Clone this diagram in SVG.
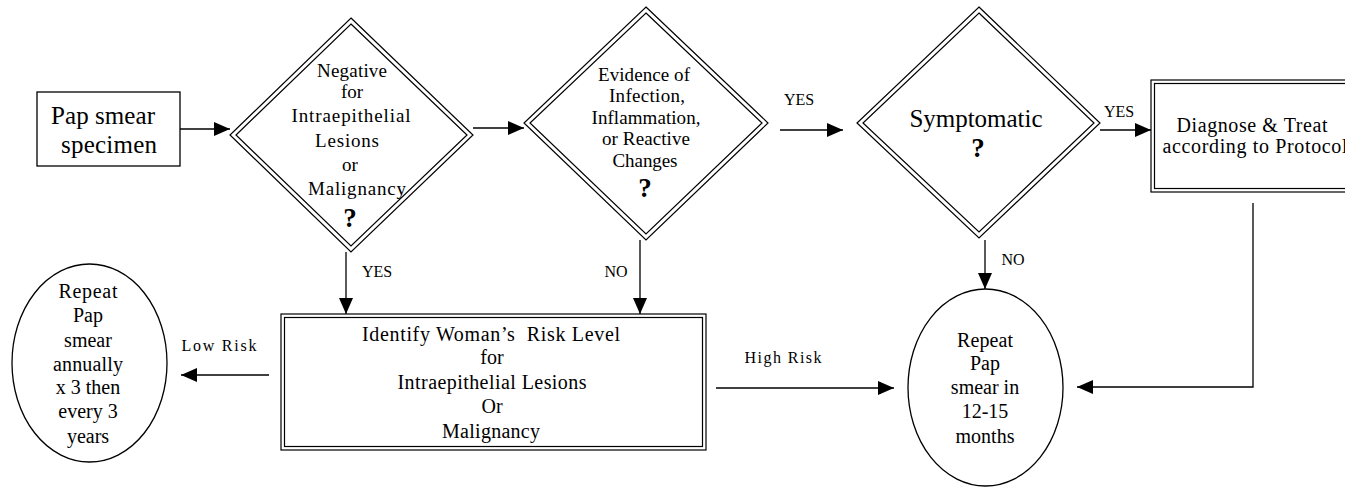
<svg xmlns="http://www.w3.org/2000/svg" width="1345" height="487" viewBox="0 0 1345 487" font-family="'Liberation Serif', 'Times New Roman', Times, serif">
<style>
text{font-family:'Liberation Serif','Times New Roman',Times,serif;fill:#000;text-anchor:middle}
.n{fill:#fff;stroke:#000;stroke-width:1.3}
.d{fill:none;stroke:#000;stroke-width:1.2}
.c{fill:none;stroke:#000;stroke-width:1.3}
.t18{font-size:19px}
.t19{font-size:20px}
.t20{font-size:20px}
.t24{font-size:25px}
.q{font-size:27px;font-weight:bold}
.l{font-size:16px}
</style>
<defs>
<marker id="ah" markerWidth="16" markerHeight="14" refX="16" refY="7" orient="auto" markerUnits="userSpaceOnUse">
<path d="M0,0 L16,7 L0,14 Z" fill="#000"/>
</marker>
</defs>
<rect width="1345" height="487" fill="#fff"/>

<g id="connectors">
<line class="c" x1="180" y1="129" x2="230" y2="129" marker-end="url(#ah)"/>
<line class="c" x1="473" y1="128" x2="524" y2="128" marker-end="url(#ah)"/>
<line class="c" x1="780" y1="130" x2="843" y2="130" marker-end="url(#ah)"/>
<line class="c" x1="1100" y1="130" x2="1151" y2="130" marker-end="url(#ah)"/>
<line class="c" x1="346" y1="252" x2="346" y2="314" marker-end="url(#ah)"/>
<line class="c" x1="640" y1="240" x2="640" y2="314" marker-end="url(#ah)"/>
<line class="c" x1="985" y1="240" x2="985" y2="289" marker-end="url(#ah)"/>
<line class="c" x1="269" y1="375" x2="181" y2="375" marker-end="url(#ah)"/>
<line class="c" x1="716" y1="388" x2="894" y2="388" marker-end="url(#ah)"/>
<polyline class="c" points="1253,203 1253,387 1077,387" marker-end="url(#ah)"/>
<text class="l" x="799" y="105">YES</text>
<text class="l" x="1119" y="117">YES</text>
<text class="l" x="377" y="277">YES</text>
<text class="l" x="616" y="277">NO</text>
<text class="l" x="1013" y="265">NO</text>
<text class="l" x="219" y="351" textLength="75">Low Risk</text>
<text class="l" x="783" y="363" textLength="77">High Risk</text>
</g>

<g id="pap-smear">
<rect class="n" x="37" y="92" width="143" height="74"/>
<text class="t24" x="103" y="124" textLength="104">Pap smear</text>
<text class="t24" x="109" y="153" textLength="96">specimen</text>
</g>

<g id="negative">
<polygon class="d" points="351,18 473,135 351,252 230,135"/>
<polygon class="d" points="351,24 467,135 351,246 236,135"/>
<text class="t18" x="352" y="77" textLength="70">Negative</text>
<text class="t18" x="352" y="98">for</text>
<text class="t18" x="351" y="122" textLength="119">Intraepithelial</text>
<text class="t18" x="347" y="147" textLength="64">Lesions</text>
<text class="t18" x="350" y="171">or</text>
<text class="t18" x="357" y="195" textLength="98">Malignancy</text>
<text class="q" x="350" y="227">?</text>
</g>

<g id="evidence">
<polygon class="d" points="646,7 768,123 646,240 524,123"/>
<polygon class="d" points="646,13 762,123 646,234 530,123"/>
<text class="t18" x="644" y="81" textLength="92">Evidence of</text>
<text class="t18" x="647" y="102" textLength="76">Infection,</text>
<text class="t18" x="646" y="124" textLength="109">Inflammation,</text>
<text class="t18" x="646" y="145" textLength="88">or Reactive</text>
<text class="t18" x="645" y="167" textLength="65">Changes</text>
<text class="q" x="645" y="197">?</text>
</g>

<g id="symptomatic">
<polygon class="d" points="979,7 1100,123 979,238 857,123"/>
<polygon class="d" points="979,13 1094,123 979,232 863,123"/>
<text class="t24" x="976" y="127" textLength="133">Symptomatic</text>
<text class="q" x="978" y="157">?</text>
</g>

<g id="diagnose">
<rect class="d" x="1151" y="80" width="204" height="112"/>
<rect class="d" x="1154.5" y="83.5" width="197" height="105"/>
<text class="t20" x="1252" y="132" textLength="151">Diagnose &amp; Treat</text>
<text class="t20" x="1255" y="153" textLength="185">according to Protocol</text>
</g>

<g id="risk-level">
<rect class="d" x="281" y="314" width="425" height="136"/>
<rect class="d" x="284.5" y="317.5" width="418" height="129"/>
<text class="t19" x="491" y="341" textLength="258" xml:space="preserve">Identify Woman’s  Risk Level</text>
<text class="t19" x="492" y="364">for</text>
<text class="t19" x="492" y="389" textLength="189">Intraepithelial Lesions</text>
<text class="t19" x="492" y="413">Or</text>
<text class="t19" x="491" y="438" textLength="98">Malignancy</text>
</g>

<g id="repeat-annually">
<ellipse class="n" cx="89.5" cy="363" rx="77.5" ry="99"/>
<text class="t19" x="88" y="298" textLength="59">Repeat</text>
<text class="t19" x="88" y="322">Pap</text>
<text class="t19" x="88" y="347">smear</text>
<text class="t19" x="88" y="371" textLength="70">annually</text>
<text class="t19" x="88" y="394">x 3 then</text>
<text class="t19" x="88" y="418">every 3</text>
<text class="t19" x="88" y="443">years</text>
</g>

<g id="repeat-12-15">
<ellipse class="n" cx="985.5" cy="387.5" rx="77.5" ry="98.5"/>
<text class="t19" x="985" y="347" textLength="56">Repeat</text>
<text class="t19" x="985" y="370">Pap</text>
<text class="t19" x="985" y="394">smear in</text>
<text class="t19" x="985" y="418">12-15</text>
<text class="t19" x="985" y="443">months</text>
</g>
</svg>
